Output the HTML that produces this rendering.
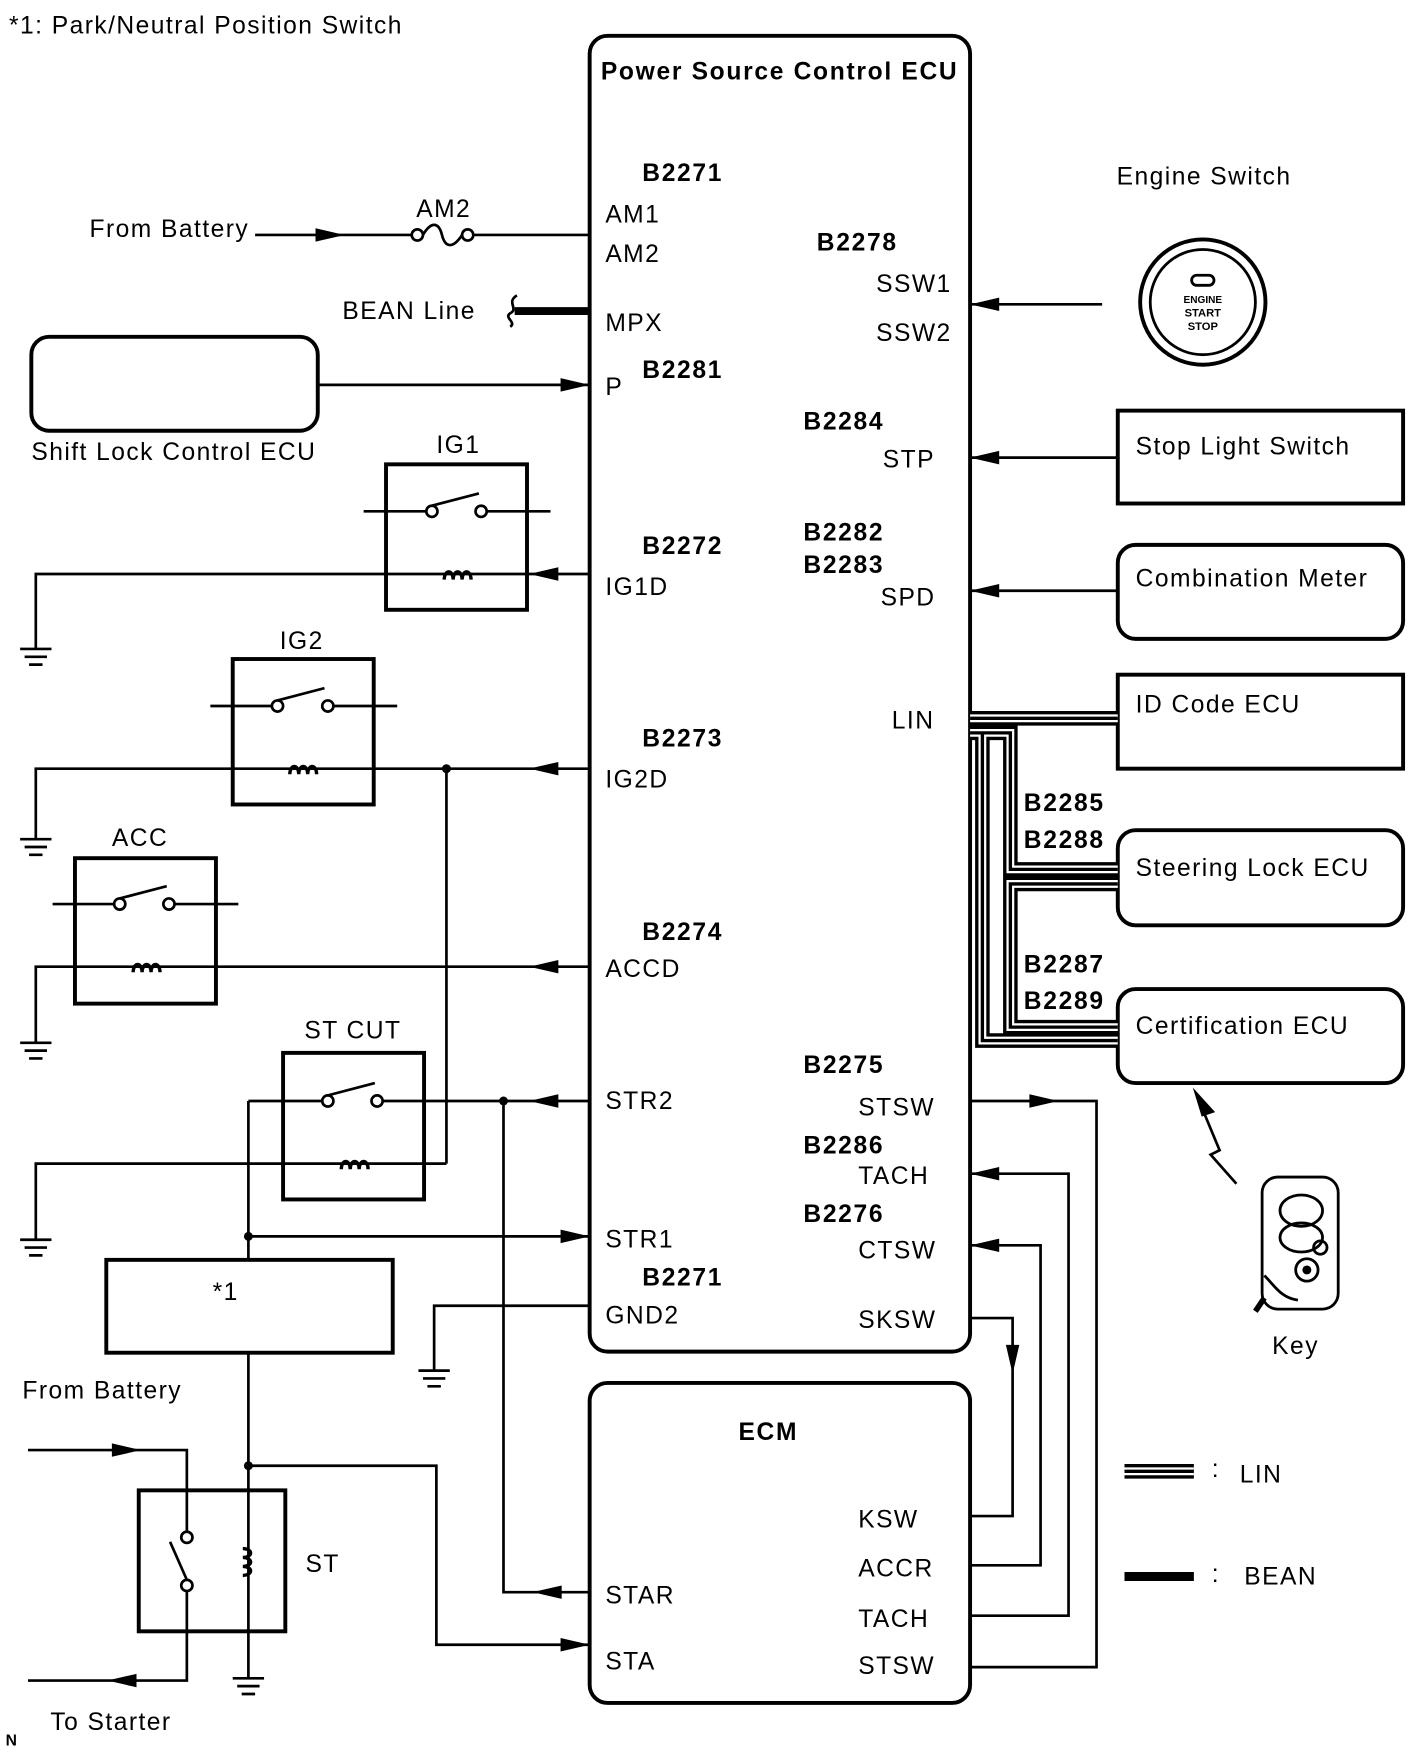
<!DOCTYPE html>
<html><head><meta charset="utf-8"><style>
html,body{margin:0;padding:0;background:#fff;}
svg{display:block;}
text{font-family:"Liberation Sans",Arial,sans-serif;font-size:22px;fill:#000;letter-spacing:1.3px;}
.b{font-weight:bold;letter-spacing:1.5px;}
</style></head><body>
<svg width="1421" height="1760" viewBox="0 0 1270 1573" preserveAspectRatio="none" xmlns="http://www.w3.org/2000/svg">
<g fill="none" stroke="#000" stroke-width="3.5">
<rect x="527" y="32" width="340" height="1176" rx="16"/>
<rect x="527" y="1236" width="340" height="286" rx="16"/>
<rect x="28" y="301" width="256" height="84" rx="16"/>
<rect x="345" y="415" width="126" height="130"/>
<rect x="208" y="589" width="126" height="130"/>
<rect x="67" y="767" width="126" height="130"/>
<rect x="253" y="941" width="126" height="131"/>
<rect x="95" y="1126" width="256" height="83"/>
<rect x="124" y="1332" width="131" height="126"/>
<rect x="999" y="367" width="255" height="83"/>
<rect x="999" y="487" width="255" height="84" rx="16"/>
<rect x="999" y="603" width="255" height="84"/>
<rect x="999" y="742" width="255" height="85" rx="16"/>
<rect x="999" y="884" width="255" height="84" rx="16"/>
</g>
<g fill="none" stroke="#000" stroke-width="2.4">
<path d="M228 210H368M423 210H527"/>
<circle cx="373" cy="210" r="5"/><circle cx="418" cy="210" r="5"/>
<path d="M378 210 C385 198 392 198 395 210 C398 222 405 222 413 210"/>
<path d="M284 344H527"/>
<path d="M325 457H381M435 457H492M386 452L428 441"/>
<circle cx="386" cy="457" r="5"/><circle cx="430" cy="457" r="5"/>
<path d="M527 513H32V580"/>
<path d="M188 631H243M298 631H355M248 626L290 615"/>
<circle cx="248" cy="631" r="5"/><circle cx="293" cy="631" r="5"/>
<path d="M527 687H32V750M399 687V1040"/>
<path d="M47 808H102M156 808H213M107 803L149 792"/>
<circle cx="107" cy="808" r="5"/><circle cx="151" cy="808" r="5"/>
<path d="M527 864H32V932"/>
<path d="M222 984H288M342 984H527M293 979L335 968"/>
<circle cx="293" cy="984" r="5"/><circle cx="337" cy="984" r="5"/>
<path d="M399 1040H32V1108"/>
<path d="M222 984V1126M222 1105H527"/>
<path d="M450 984V1423H527"/>
<path d="M527 1167H388V1225"/>
<path d="M222 1209V1500M222 1310H390V1470H527"/>
<path d="M25 1296H167V1369M167 1422V1502H25M167 1412L152 1378"/>
<circle cx="167" cy="1374" r="5"/><circle cx="167" cy="1417" r="5"/>
<path d="M985 272H867M999 409H867M999 528H867"/>
<path d="M867 984H980V1490H867M867 1049H955V1444H867M867 1113H930V1399H867M867 1178H905V1355H867"/>
<path d="M1070 980L1090 1028L1082 1032L1105 1058"/>
</g>
<g stroke="#000" stroke-width="2.4">
<path d="M18 580H46M22 587H42M26 594H38"/>
<path d="M18 750H46M22 757H42M26 764H38"/>
<path d="M18 932H46M22 939H42M26 946H38"/>
<path d="M18 1108H46M22 1115H42M26 1122H38"/>
<path d="M374 1225H402M378 1232H398M382 1239H394"/>
<path d="M208 1500H236M212 1507H232M216 1514H228"/>
</g>
<g fill="none" stroke="#000" stroke-width="3">
<path d="M397 518a4 7 0 1 1 8 0a4 7 0 1 1 8 0a4 7 0 1 1 8 0"/>
<path d="M259 692a4 7 0 1 1 8 0a4 7 0 1 1 8 0a4 7 0 1 1 8 0"/>
<path d="M119 869a4 7 0 1 1 8 0a4 7 0 1 1 8 0a4 7 0 1 1 8 0"/>
<path d="M305 1045a4 7 0 1 1 8 0a4 7 0 1 1 8 0a4 7 0 1 1 8 0"/>
<path d="M217 1384a7 4 0 1 1 0 8a7 4 0 1 1 0 8a7 4 0 1 1 0 8"/>
</g>
<g fill="#000">
<circle cx="399" cy="687" r="4"/><circle cx="450" cy="984" r="4"/>
<circle cx="222" cy="1105" r="4"/><circle cx="222" cy="1310" r="4"/>
<polygon points="308,210 282,204 282,216"/>
<polygon points="527,344 501,338 501,350"/>
<polygon points="473,513 499,507 499,519"/>
<polygon points="473,687 499,681 499,693"/>
<polygon points="473,864 499,858 499,870"/>
<polygon points="473,984 499,978 499,990"/>
<polygon points="527,1105 501,1099 501,1111"/>
<polygon points="527,1470 501,1464 501,1476"/>
<polygon points="476,1423 502,1417 502,1429"/>
<polygon points="126,1296 100,1290 100,1302"/>
<polygon points="96,1502 122,1496 122,1508"/>
<polygon points="867,272 893,266 893,278"/>
<polygon points="867,409 893,403 893,415"/>
<polygon points="867,528 893,522 893,534"/>
<polygon points="946,984 920,978 920,990"/>
<polygon points="867,1049 893,1043 893,1055"/>
<polygon points="867,1113 893,1107 893,1119"/>
<polygon points="905,1228 899,1202 911,1202"/>
<polygon points="1066,972 1086,994 1074,998"/>
</g>
<path d="M460 278H527" stroke="#000" stroke-width="7"/>
<path d="M462 264C452 270 464 276 456 280C450 284 462 288 456 292" fill="none" stroke="#000" stroke-width="2.4"/>
<g fill="none" stroke-linejoin="miter">
<g stroke="#000" stroke-width="13">
<path d="M867 642H999M867 655H903V777H999M999 790H903V918H999M867 655H878V930H999"/>
<path d="M1005 1315H1067"/>
</g>
<g stroke="#fff" stroke-width="7">
<path d="M867 642H999M867 655H903V777H999M999 790H903V918H999M867 655H878V930H999"/>
<path d="M1005 1315H1067"/>
</g>
<g stroke="#000" stroke-width="3">
<path d="M867 642H999M867 655H903V777H999M999 790H903V918H999M867 655H878V930H999"/>
<path d="M1005 1315H1067"/>
</g>
</g>
<path d="M1005 1409H1067" stroke="#000" stroke-width="8"/>
<circle cx="1075" cy="270" r="56" fill="none" stroke="#000" stroke-width="3.5"/>
<circle cx="1075" cy="270" r="47" fill="none" stroke="#000" stroke-width="2.5"/>
<rect x="1065" y="246" width="20" height="9" rx="4.5" fill="none" stroke="#000" stroke-width="2.5"/>
<text x="1075" y="271" text-anchor="middle" style="font-size:9px;font-weight:bold;letter-spacing:0">ENGINE</text>
<text x="1075" y="283" text-anchor="middle" style="font-size:10px;font-weight:bold;letter-spacing:0">START</text>
<text x="1075" y="295" text-anchor="middle" style="font-size:10px;font-weight:bold;letter-spacing:0">STOP</text>
<g fill="none" stroke="#000" stroke-width="2.5">
<rect x="1128" y="1052" width="68" height="118" rx="14"/>
<ellipse cx="1163" cy="1082" rx="19" ry="14"/>
<ellipse cx="1163" cy="1106" rx="19" ry="13"/>
<circle cx="1180" cy="1115" r="6"/>
<circle cx="1168" cy="1135" r="10"/>
<path d="M1130 1140C1140 1150 1145 1160 1160 1162"/>
</g>
<circle cx="1168" cy="1135" r="4" fill="#000"/>
<path d="M1130 1160L1122 1172" stroke="#000" stroke-width="5"/>
<text x="8" y="30">*1: Park/Neutral Position Switch</text>
<text x="537" y="71" class="b">Power Source Control ECU</text>
<text x="574" y="162" class="b">B2271</text>
<text x="541" y="199">AM1</text>
<text x="541" y="234">AM2</text>
<text x="541" y="296">MPX</text>
<text x="574" y="338" class="b">B2281</text>
<text x="541" y="353">P</text>
<text x="574" y="495" class="b">B2272</text>
<text x="541" y="532">IG1D</text>
<text x="574" y="667" class="b">B2273</text>
<text x="541" y="704">IG2D</text>
<text x="574" y="840" class="b">B2274</text>
<text x="541" y="873">ACCD</text>
<text x="541" y="991">STR2</text>
<text x="541" y="1115">STR1</text>
<text x="574" y="1149" class="b">B2271</text>
<text x="541" y="1183">GND2</text>
<text x="730" y="224" class="b">B2278</text>
<text x="783" y="261">SSW1</text>
<text x="783" y="305">SSW2</text>
<text x="718" y="384" class="b">B2284</text>
<text x="789" y="418">STP</text>
<text x="718" y="483" class="b">B2282</text>
<text x="718" y="512" class="b">B2283</text>
<text x="787" y="541">SPD</text>
<text x="797" y="651">LIN</text>
<text x="718" y="959" class="b">B2275</text>
<text x="767" y="997">STSW</text>
<text x="718" y="1031" class="b">B2286</text>
<text x="767" y="1058">TACH</text>
<text x="718" y="1092" class="b">B2276</text>
<text x="767" y="1125">CTSW</text>
<text x="767" y="1187">SKSW</text>
<text x="660" y="1287" class="b">ECM</text>
<text x="767" y="1365">KSW</text>
<text x="767" y="1409">ACCR</text>
<text x="767" y="1454">TACH</text>
<text x="767" y="1496">STSW</text>
<text x="541" y="1433">STAR</text>
<text x="541" y="1492">STA</text>
<text x="80" y="212">From Battery</text>
<text x="372" y="194">AM2</text>
<text x="306" y="285">BEAN Line</text>
<text x="28" y="411">Shift Lock Control ECU</text>
<text x="390" y="405">IG1</text>
<text x="250" y="580">IG2</text>
<text x="100" y="756">ACC</text>
<text x="272" y="928">ST CUT</text>
<text x="190" y="1162">*1</text>
<text x="20" y="1250">From Battery</text>
<text x="273" y="1405">ST</text>
<text x="45" y="1546">To Starter</text>
<text x="5" y="1560" class="b" style="font-size:14px">N</text>
<text x="998" y="165">Engine Switch</text>
<text x="1015" y="406">Stop Light Switch</text>
<text x="1015" y="524">Combination Meter</text>
<text x="1015" y="637">ID Code ECU</text>
<text x="1015" y="783">Steering Lock ECU</text>
<text x="1015" y="924">Certification ECU</text>
<text x="915" y="725" class="b">B2285</text>
<text x="915" y="758" class="b">B2288</text>
<text x="915" y="869" class="b">B2287</text>
<text x="915" y="902" class="b">B2289</text>
<text x="1137" y="1210">Key</text>
<text x="1083" y="1320">:</text>
<text x="1108" y="1325">LIN</text>
<text x="1083" y="1414">:</text>
<text x="1112" y="1416">BEAN</text>
</svg>
</body></html>
